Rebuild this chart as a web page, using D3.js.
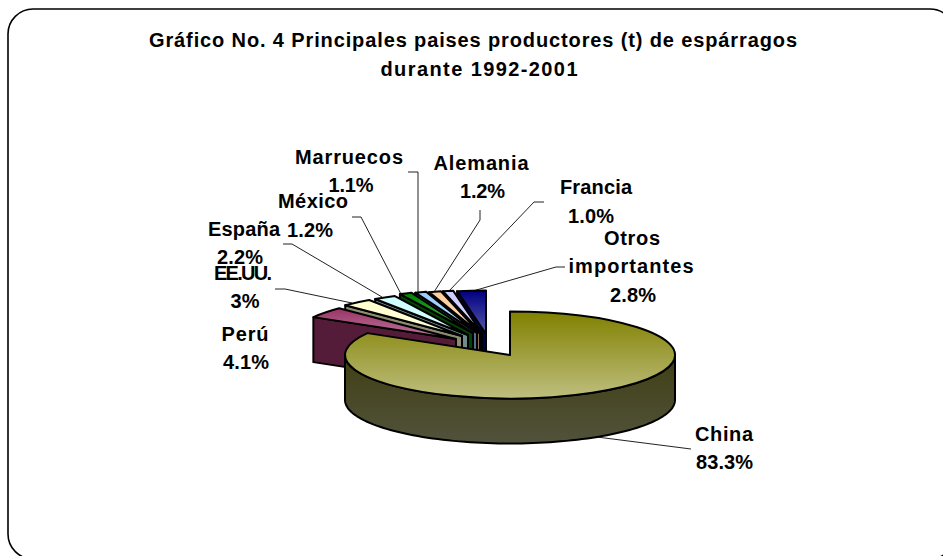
<!DOCTYPE html>
<html><head><meta charset="utf-8">
<script src="https://cdn.jsdelivr.net/npm/d3@7/dist/d3.min.js"></script>
<style>html,body{margin:0;padding:0;background:#fff;overflow:hidden}svg{display:block}text{font-family:"Liberation Sans",Arial,sans-serif;font-weight:bold;fill:#000}</style>
</head><body>
<script>
// ---- data ----
const categories = ["China","Perú","EE.UU.","España","México","Marruecos","Alemania","Francia","Otros importantes"];
const shares = [83.3,4.1,3,2.2,1.2,1.1,1.2,1.0,2.8];
const shareLabels = ["83.3%","4.1%","3%","2.2%","1.2%","1.1%","1.2%","1.0%","2.8%"];
const titleLines = ["Gráfico No. 4 Principales paises productores (t) de espárragos","durante 1992-2001"];

// ---- style & layout ----
const colors = ["#808000","#993366","#FFFFCC","#CCFFFF","#008000","#99CCFF","#FFCC99","#CCCCFF","#000080"];
const W=943,H=556;
const center={x:510,y:355}, rx=165, ry=43.5, depth=45;
// explosion of every slice relative to the pie centre
const shift=[[0,0],[-54,-16],[-48,-19],[-42,-20],[-37,-22],[-33,-22],[-30,-21.5],[-28,-21.5],[-24,-21]];
// label rows: [text, centre x, baseline y, width]
const labelRows=[
 [[0,724,441,58],[724.5,469,57]],
 [[1,245,341,47],[246,369,46]],
 [[2,243,280,58],[245,308,29]],
 [[3,244,236,72],[240,264,46]],
 [[4,313,208,70],[310,237,46]],
 [[5,349,164,108],[351,192,45]],
 [[6,481,170,95],[482.5,198,45]],
 [[7,596,194,72],[591,223,46]],
 [[8,632,245,56,"Otros"],[633,302,46],[631,273,125,"importantes"]]
];
const leaders=[
 [[691,449],[597,437]],
 [],
 [[275,289],[285,289],[352,303]],
 [[283,244],[292,244],[382,297]],
 [[352,217],[361,217],[402,296]],
 [[408,172],[418,172],[418,292]],
 [[480,210],[480,220],[434,292]],
 [[544,202],[534,202],[449,291]],
 [[565,267],[556,267],[473,291]]
];

const svg=d3.select("body").append("svg").attr("width",W).attr("height",H);
const defs=svg.append("defs");

// frame
svg.append("rect").attr("x",8).attr("y",9).attr("width",947).attr("height",550).attr("rx",25).attr("ry",25)
  .attr("fill","#fff").attr("stroke","#000").attr("stroke-width",1.6);

// title
svg.append("text").attr("x",473).attr("y",47).attr("text-anchor","middle").attr("font-size",20)
  .attr("textLength",648).attr("lengthAdjust","spacing").text(titleLines[0]);
svg.append("text").attr("x",479).attr("y",76).attr("text-anchor","middle").attr("font-size",20)
  .attr("textLength",197).attr("lengthAdjust","spacing").text(titleLines[1]);

// pie layout through d3
const pie=d3.pie().sort(null).startAngle(0).endAngle(2*Math.PI)(shares);
const arc=d3.arc().innerRadius(0).outerRadius(1);
const pt=(ax,ay,a)=>[ax+rx*Math.sin(a),ay-ry*Math.cos(a)];
const line=d3.line();

function grad(id,x1,y1,x2,y2,c0,c1,units){
  const g=defs.append("linearGradient").attr("id",id).attr("x1",x1).attr("y1",y1).attr("x2",x2).attr("y2",y2);
  if(units) g.attr("gradientUnits",units);
  g.append("stop").attr("offset",0).attr("stop-color",c0);
  g.append("stop").attr("offset",1).attr("stop-color",c1);
}

// leaders sit beneath the pie
svg.append("g").selectAll("path").data(leaders.filter(l=>l.length)).join("path")
  .attr("d",line).attr("fill","none").attr("stroke","#222").attr("stroke-width",1);

// slices from back to front
const g=svg.append("g");
const order=d3.range(1,9).reverse();
order.forEach(i=>{
  const d=pie[i], ax=center.x+shift[i][0], ay=center.y+shift[i][1];
  const sideC=d3.interpolateRgb(colors[i],"#000")(0.45);
  // radial wall at slice start
  const p=pt(ax,ay,d.startAngle);
  g.append("path").attr("d",line([p,[ax,ay],[ax,ay+depth],[p[0],p[1]+depth]])+"Z")
    .attr("fill",sideC).attr("stroke","#000").attr("stroke-width",2).attr("stroke-linejoin","round");
  grad("top"+i,0,0,0,1,colors[i],d3.interpolateRgb(colors[i],"#fff")(0.35));
  g.append("path").attr("d",arc(d))
    .attr("transform",`translate(${ax},${ay}) scale(${rx},${ry})`)
    .attr("fill",`url(#top${i})`).attr("stroke","#000").attr("stroke-width",2)
    .attr("stroke-linejoin","round").attr("vector-effect","non-scaling-stroke");
});

// China side + top
const d0=pie[0];
const front=d3.range(90,270.5,2).map(a=>a*Math.PI/180);
const sidePts=front.map(a=>pt(center.x,center.y,a)).concat(front.slice().reverse().map(a=>{const q=pt(center.x,center.y,a);return [q[0],q[1]+depth];}));
grad("chinaSide",0,center.y,0,center.y+ry+depth,"#3f3f14","#52523c","userSpaceOnUse");
g.append("path").attr("d",line(sidePts)+"Z").attr("fill","url(#chinaSide)")
  .attr("stroke","#000").attr("stroke-width",2).attr("stroke-linejoin","round");
grad("chinaTop",0,0,0,1,colors[0],"#BFBF80");
g.append("path").attr("d",arc(d0))
  .attr("transform",`translate(${center.x},${center.y}) scale(${rx},${ry})`)
  .attr("fill","url(#chinaTop)").attr("stroke","#000").attr("stroke-width",2)
  .attr("stroke-linejoin","round").attr("vector-effect","non-scaling-stroke");

// labels
const lab=svg.append("g").attr("font-size",20).attr("text-anchor","middle");
labelRows.forEach(rows=>{
  const [i,x,y,w,name]=rows[0];
  lab.append("text").attr("x",x).attr("y",y).attr("textLength",w).attr("lengthAdjust","spacing").text(name||categories[i]);
  const [px,py,pw]=rows[1];
  lab.append("text").attr("x",px).attr("y",py).attr("textLength",pw).attr("lengthAdjust","spacing").text(shareLabels[i]);
  if(rows[2]){const [ex,ey,ew,t]=rows[2];
    lab.append("text").attr("x",ex).attr("y",ey).attr("textLength",ew).attr("lengthAdjust","spacing").text(t);}
});
</script>
</body></html>
